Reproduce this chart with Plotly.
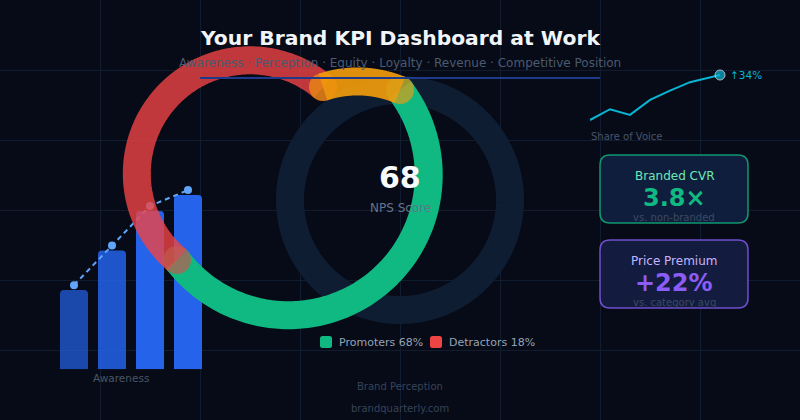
import numpy as np
import plotly.graph_objects as go

W, H = 800, 420
FONT = "DejaVu Sans"

# ---------------- data ----------------
title_text = "Your Brand KPI Dashboard at Work"
subtitle_text = "Awareness · Perception · Equity · Loyalty · Revenue · Competitive Position"

awareness_stages = ["Q1", "Q2", "Q3", "Q4"]
awareness_values = [40, 60, 80, 88]
awareness_trend = [42.5, 62.5, 82.5, 90.5]

sov_days = [0, 20, 40, 60, 80, 100, 130]
sov_values = [10, 13.6, 11.7, 16.7, 19.8, 22.6, 25]
sov_change = "↑34%"

nps_score = 68
nps_labels = ["Promoters", "Detractors"]
nps_shares = [68, 18]

kpi_labels = ["Branded CVR", "Price Premium"]
kpi_values = ["3.8×", "+22%"]
kpi_notes = ["vs. non-branded", "vs. category avg"]

# ---------------- styles / layout geometry ----------------
BG = "#060b17"
GRID = "#111c2e"
BAR_OPACITY = [0.7, 0.85, 1, 1]
GREEN, RED, ORANGE = "#10b981", "#ef4444", "#f59e0b"
PURPLE = "#8b5cf6"
RING_W = 28
GAUGE_C = (400, 200)
GAUGE_R = 110
P_TOP = (400, 90)
P_A = (177, 260)
P_B = (323, 87)


def svg_arc(p0, p1, r, large, sweep, n=160):
    x1, y1 = p0
    x2, y2 = p1
    x1p, y1p = (x1 - x2) / 2, (y1 - y2) / 2
    lam = (x1p ** 2 + y1p ** 2) / r ** 2
    if lam > 1:
        r = r * np.sqrt(lam)
    num = r ** 4 - r * r * y1p ** 2 - r * r * x1p ** 2
    den = r * r * y1p ** 2 + r * r * x1p ** 2
    coef = np.sqrt(max(0.0, num / den))
    if large == sweep:
        coef = -coef
    cxp, cyp = coef * y1p, -coef * x1p
    cx, cy = cxp + (x1 + x2) / 2, cyp + (y1 + y2) / 2
    ux, uy = (x1p - cxp) / r, (y1p - cyp) / r
    vx, vy = (-x1p - cxp) / r, (-y1p - cyp) / r
    t1 = np.arctan2(uy, ux)
    dt = np.arctan2(ux * vy - uy * vx, ux * vx + uy * vy)
    if sweep == 1 and dt < 0:
        dt += 2 * np.pi
    if sweep == 0 and dt > 0:
        dt -= 2 * np.pi
    t = t1 + np.linspace(0, dt, n)
    return cx + r * np.cos(t), cy + r * np.sin(t)


fig = go.Figure()

# subplot 1: background grid
fig.add_trace(go.Scatter(x=[None], y=[None], xaxis="x", yaxis="y", showlegend=False, hoverinfo="skip"))

# subplot 2: awareness bars + trend
fig.add_trace(go.Bar(x=awareness_stages, y=awareness_values, xaxis="x2", yaxis="y2",
                     marker=dict(color="#2563eb", opacity=BAR_OPACITY, cornerradius=4, line=dict(width=0)),
                     showlegend=False, hoverinfo="skip"))
fig.add_trace(go.Scatter(x=awareness_stages, y=awareness_trend, xaxis="x2", yaxis="y2", mode="lines+markers",
                         line=dict(color="#60a5fa", width=2, dash="5px,4px"),
                         marker=dict(size=8, color="#60a5fa"), cliponaxis=False,
                         showlegend=False, hoverinfo="skip"))

# subplot 3: share of voice sparkline
fig.add_trace(go.Scatter(x=sov_days, y=sov_values, xaxis="x3", yaxis="y3", mode="lines+markers",
                         line=dict(color="#06b6d4", width=2),
                         marker=dict(size=[0] * (len(sov_values) - 1) + [10], color="#06b6d4"),
                         cliponaxis=False, showlegend=False, hoverinfo="skip"))

# subplot 4: NPS rings (pixel space)
th = np.linspace(0, 2 * np.pi + 0.2, 260)
fig.add_trace(go.Scatter(x=GAUGE_C[0] + GAUGE_R * np.cos(th), y=GAUGE_C[1] + GAUGE_R * np.sin(th),
                         xaxis="x4", yaxis="y4", mode="lines",
                         line=dict(color="#0f1d33", width=RING_W, simplify=False),
                         cliponaxis=False, showlegend=False, hoverinfo="skip"))

segs = [
    (P_TOP, P_A, 1, GREEN, 1.0),
    (P_A, P_B, 1, RED, 0.8),
    (P_B, P_TOP, 0, ORANGE, 0.9),
]
for p0, p1, large, col, op in segs:
    ax, ay = svg_arc(p0, p1, GAUGE_R, large, 1)
    sizes = [0] * len(ax)
    sizes[0] = RING_W
    sizes[-1] = RING_W
    fig.add_trace(go.Scatter(x=ax, y=ay, xaxis="x4", yaxis="y4", mode="lines+markers",
                             line=dict(color=col, width=RING_W, simplify=False),
                             marker=dict(size=sizes, color=col, line=dict(width=0)),
                             opacity=op, cliponaxis=False, showlegend=False, hoverinfo="skip"))

hidden = dict(visible=False, fixedrange=True)


def rounded_rect(x0, y0, x1, y1, r):
    return (f"M{x0 + r},{y0} L{x1 - r},{y0} Q{x1},{y0} {x1},{y0 + r} L{x1},{y1 - r} "
            f"Q{x1},{y1} {x1 - r},{y1} L{x0 + r},{y1} Q{x0},{y1} {x0},{y1 - r} "
            f"L{x0},{y0 + r} Q{x0},{y0} {x0 + r},{y0} Z")


shapes = []
annotations = []


def txt(x, y, s, size, color, anchor="center"):
    annotations.append(dict(x=x, y=y, xref="x4", yref="y4", text=s, showarrow=False,
                            xanchor=anchor, yanchor="middle",
                            font=dict(family=FONT, size=size, color=color)))


# title + subtitle + rule
txt(400, 38, f"<b>{title_text}</b>", 20.3, "#f1f5f9")
txt(400, 63, subtitle_text, 12, "#4b5a70")
shapes.append(dict(type="line", xref="x4", yref="y4", x0=200, x1=600, y0=78, y1=78,
                   line=dict(color="#1e3a8a", width=2)))

# gauge centre
txt(400, 177, f"<b>{nps_score}</b>", 30, "#f8fafc")
txt(400, 208, "NPS Score", 12, "#64748b")

# legend
leg_cols = [GREEN, RED]
leg_x = [320, 430]
for lx, col, lab, sh in zip(leg_x, leg_cols, nps_labels, nps_shares):
    shapes.append(dict(type="path", xref="x4", yref="y4", path=rounded_rect(lx, 336, lx + 12, 348, 2.5),
                       fillcolor=col, line=dict(width=0)))
    txt(lx + 17, 342, f"{lab} {sh}%", 11, "#94a3b8", anchor="left")

# labels
txt(121, 378, "Awareness", 10.5, "#4b5563")
txt(589, 136, "Share of Voice", 10, "#475569", anchor="left")
annotations.append(dict(x=sov_days[-1], y=sov_values[-1], xref="x3", yref="y3", text=sov_change,
                        showarrow=False, xanchor="left", yanchor="middle", xshift=8,
                        font=dict(family=FONT, size=10.5, color="#06b6d4")))
txt(400, 386, "Brand Perception", 10, "#374357")
txt(400, 408, "brandquarterly.com", 10, "#374357")

# KPI cards
card_y = [(155, 223), (240, 308)]
card_border = ["rgba(16,185,129,0.8)", "rgba(139,92,246,0.8)"]
card_fill = ["#101e3d", "#131c3f"]
card_label_col = ["#6ee7b7", "#c4b5fd"]
card_value_col = [GREEN, PURPLE]
for (y0, y1), bc, fc, lc, vc, lab, val, note in zip(card_y, card_border, card_fill, card_label_col,
                                                     card_value_col, kpi_labels, kpi_values, kpi_notes):
    shapes.append(dict(type="path", xref="x4", yref="y4", path=rounded_rect(600, y0, 748, y1, 10),
                       fillcolor=fc, line=dict(color=bc, width=1.5), layer="above"))
    txt(674, y0 + 21, lab, 12, lc)
    txt(674, y0 + 43, f"<b>{val}</b>", 24, vc)
    txt(674, y0 + 62.5, note, 10, "#3b4a61")

fig.update_layout(
    width=W, height=H, autosize=False,
    margin=dict(l=0, r=0, t=0, b=0),
    paper_bgcolor=BG, plot_bgcolor="rgba(0,0,0,0)",
    bargap=0.263,
    xaxis=dict(domain=[0, 1], range=[0, 800], tick0=0, dtick=100, showgrid=True, gridcolor=GRID, gridwidth=1,
               zeroline=False, showticklabels=False, ticks="", showline=False, fixedrange=True),
    yaxis=dict(domain=[0, 1], range=[420, 0], tick0=0, dtick=70, showgrid=True, gridcolor=GRID, gridwidth=1,
               zeroline=False, showticklabels=False, ticks="", showline=False, fixedrange=True),
    xaxis2=dict(domain=[55 / 800, 207 / 800], range=[-0.5, 3.5], type="category", anchor="y2", **hidden),
    yaxis2=dict(domain=[1 - 369.3 / 420, 1 - 171.3 / 420], range=[0, 100], anchor="x2", **hidden),
    xaxis3=dict(domain=[590 / 800, 720 / 800], range=[0, 130], anchor="y3", **hidden),
    yaxis3=dict(domain=[1 - 150 / 420, 1 - 60 / 420], range=[0, 30], anchor="x3", **hidden),
    xaxis4=dict(domain=[0, 1], range=[0, 800], anchor="y4", **hidden),
    yaxis4=dict(domain=[0, 1], range=[420, 0], anchor="x4", **hidden),
    shapes=shapes,
    annotations=annotations,
)

fig.write_html("out.html", config={"displayModeBar": False},
               post_script="document.body.style.margin='0';document.body.style.background='#060b17';")
